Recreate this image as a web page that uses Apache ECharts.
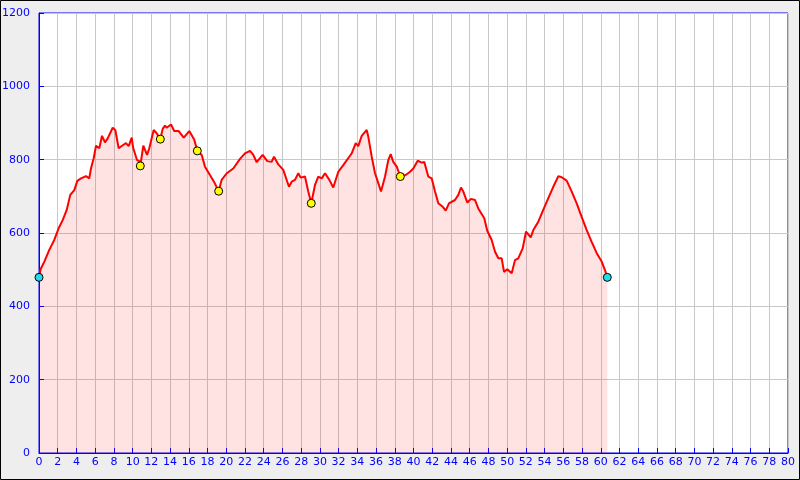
<!DOCTYPE html>
<html>
<head>
<meta charset="utf-8">
<script src="https://cdn.jsdelivr.net/npm/echarts@6/dist/echarts.min.js"></script>
<style>
html,body{margin:0;padding:0;background:#eeeeee;}
#chart{width:800px;height:480px;}
</style>
</head>
<body>
<div id="chart"></div>
<script>
// Distance along route (km)
var distKm = [0, 0.18, 0.57, 1.10, 1.63, 2.10, 2.53, 2.96, 3.34, 3.77, 4.09, 4.49, 5.02, 5.37, 5.55, 5.84, 6.09, 6.44, 6.73, 7.05, 7.34, 7.87, 8.15, 8.51, 8.87, 9.29, 9.58, 9.90, 10.07, 10.47, 10.71, 10.82, 11.14, 11.54, 11.78, 12.25, 12.57, 12.96, 13.21, 13.46, 13.64, 14.10, 14.45, 14.92, 15.46, 16.05, 16.59, 16.91, 17.38, 17.73, 18.26, 18.69, 19.19, 19.51, 20.05, 20.75, 21.47, 22.00, 22.54, 22.89, 23.25, 23.89, 24.38, 24.85, 25.10, 25.56, 26.09, 26.70, 26.99, 27.34, 27.70, 27.95, 28.41, 28.76, 29.08, 29.48, 29.83, 30.19, 30.55, 31.01, 31.43, 31.97, 32.50, 33.14, 33.40, 33.83, 34.10, 34.47, 35.00, 35.17, 35.54, 35.89, 36.24, 36.53, 36.96, 37.31, 37.56, 37.84, 38.21, 38.59, 39.17, 39.63, 39.98, 40.45, 40.88, 41.15, 41.58, 41.94, 42.30, 42.65, 43.18, 43.44, 43.79, 44.43, 44.79, 45.07, 45.32, 45.75, 46.14, 46.57, 46.92, 47.56, 47.88, 48.35, 48.71, 49.06, 49.42, 49.67, 50.02, 50.49, 50.84, 51.19, 51.66, 52.02, 52.52, 52.80, 53.33, 53.86, 54.40, 54.93, 55.47, 55.83, 56.36, 56.90, 57.43, 57.96, 58.50, 59.03, 59.57, 60.10, 60.45, 60.70];
// Elevation (m)
var elevM = [479, 502, 522, 554, 581, 613, 635, 663, 704, 717, 742, 749, 755, 749, 776, 804, 838, 831, 865, 847, 858, 887, 881, 831, 838, 845, 837, 860, 831, 799, 796, 783, 838, 813, 831, 881, 872, 856, 884, 893, 887, 896, 878, 878, 860, 878, 854, 824, 813, 781, 758, 740, 714, 745, 763, 776, 802, 817, 824, 813, 793, 813, 796, 794, 808, 787, 772, 726, 740, 745, 763, 751, 754, 713, 681, 731, 754, 749, 763, 745, 724, 767, 785, 808, 817, 845, 837, 865, 881, 863, 808, 763, 736, 713, 754, 799, 815, 794, 781, 754, 758, 767, 776, 797, 792, 794, 754, 749, 713, 681, 670, 661, 681, 690, 704, 724, 713, 683, 693, 690, 667, 640, 606, 581, 549, 531, 531, 494, 501, 490, 526, 531, 558, 604, 588, 608, 631, 663, 695, 726, 755, 752, 743, 713, 681, 644, 608, 576, 545, 522, 499, 479];
// Waypoints
var wayKm = [10.82, 12.96, 16.91, 19.19, 29.08, 38.59];
var wayElev = [783, 856, 824, 714, 681, 754];
// Start / finish points
var endKm = [0, 60.70];
var endElev = [479, 479];

var xMin = 0, xMax = 80, xStep = 2;
var yMin = 0, yMax = 1200, yStep = 200;

function pairs(a, b) { return a.map(function (v, i) { return [v, b[i]]; }); }
function plain(v) { return String(v); }

var chart = echarts.init(document.getElementById('chart'), null, {renderer: 'canvas'});
var blue = '#0000ff';
chart.setOption({
  animation: false,
  backgroundColor: '#eeeeee',
  graphic: [{
    type: 'rect', silent: true, z: 100,
    shape: {x: 0.5, y: 0.5, width: 799, height: 479},
    style: {fill: 'none', stroke: '#000', lineWidth: 1}
  }],
  grid: {
    left: 39, right: 12, top: 13, bottom: 27,
    containLabel: false, outerBoundsMode: 'none',
    show: true, backgroundColor: '#ffffff', borderColor: blue, borderWidth: 1
  },
  xAxis: {
    type: 'value', min: xMin, max: xMax, interval: xStep,
    axisLine: {show: true, lineStyle: {color: blue, width: 1}},
    axisTick: {show: true, inside: true, length: 5, lineStyle: {color: blue}},
    axisLabel: {color: blue, fontFamily: 'DejaVu Sans', fontSize: 11, margin: 4, hideOverlap: false, formatter: plain},
    splitLine: {show: true, lineStyle: {color: '#c8c8c8', width: 1}}
  },
  yAxis: {
    type: 'value', min: yMin, max: yMax, interval: yStep,
    axisLine: {show: true, lineStyle: {color: blue, width: 1}},
    axisTick: {show: true, inside: true, length: 5, lineStyle: {color: blue}},
    axisLabel: {color: blue, fontFamily: 'DejaVu Sans', fontSize: 11, margin: 9, formatter: plain},
    splitLine: {show: true, lineStyle: {color: '#c8c8c8', width: 1}}
  },
  series: [{
    type: 'line',
    data: pairs(distKm, elevM),
    showSymbol: false,
    symbol: 'none',
    lineStyle: {color: '#ff0000', width: 2},
    areaStyle: {color: 'rgba(255,0,0,0.11)', opacity: 1},
    z: 2
  }, {
    type: 'scatter',
    data: pairs(wayKm, wayElev),
    symbol: 'circle', symbolSize: 8,
    itemStyle: {color: '#ffff00', borderColor: '#000', borderWidth: 1, opacity: 1},
    z: 5
  }, {
    type: 'scatter',
    data: pairs(endKm, endElev),
    symbol: 'circle', symbolSize: 8,
    itemStyle: {color: '#22dde8', borderColor: '#000', borderWidth: 1, opacity: 1},
    z: 5
  }]
});
</script>
</body>
</html>
